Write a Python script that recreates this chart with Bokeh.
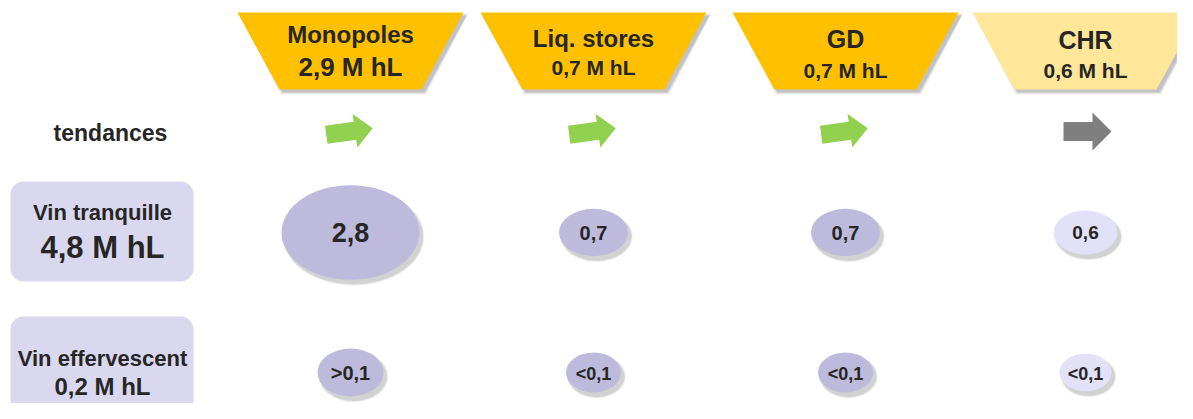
import numpy as np
from bokeh.plotting import figure
from bokeh.models import Range1d
from bokeh.embed import file_html
from bokeh.resources import INLINE
from bokeh.core.properties import value

# ---------------- data ----------------
channels = ["Monopoles", "Liq. stores", "GD", "CHR"]
channel_volumes = ["2,9 M hL", "0,7 M hL", "0,7 M hL", "0,6 M hL"]
trends = ["up", "up", "up", "flat"]
row_names = ["Vin tranquille", "Vin effervescent"]
row_totals = ["4,8 M hL", "0,2 M hL"]
still_labels = ["2,8", "0,7", "0,7", "0,6"]
still_values = [2.8, 0.7, 0.7, 0.6]
sparkling_labels = [">0,1", "<0,1", "<0,1", "<0,1"]

# ---------------- layout ----------------
FONT = value("Liberation Sans")
TXT = "#262626"
col_x = [350, 593, 845, 1085]
header_colors = ["#FFC000", "#FFC000", "#FFC000", "#FFE699"]
head_font1 = ["24px", "24px", "25px", "25px"]
head_font2 = ["26px", "21px", "21px", "21px"]
head_mid1 = [34, 37.5, 38.5, 39]
head_mid2 = [66.5, 66.5, 69.5, 70]
still_colors = ["#BDBADC", "#BDBADC", "#BDBADC", "#E2E1F7"]
spark_colors = ["#BDBADC", "#BDBADC", "#BDBADC", "#E2E1F7"]
still_fonts = ["27px", "20px", "20px", "19px"]
spark_w = [66, 55, 55, 52]
spark_fonts = ["20px", "18px", "18px", "18px"]
row_y = [232, 372]

W, H = 1177, 403
p = figure(width=W, height=H, output_backend="svg", toolbar_location=None,
           x_range=Range1d(0, W), y_range=Range1d(H, 0),
           min_border=0, outline_line_color=None)
p.axis.visible = False
p.grid.visible = False
p.background_fill_color = "white"
p.border_fill_color = "white"

# ---- header trapezoids ----
TOP_W, BOT_W, Y0, Y1 = 226, 142, 12, 89
def trap(cx, dx=0, dy=0, grow=0):
    xs = [cx - TOP_W / 2 - grow + dx, cx + TOP_W / 2 + grow + dx,
          cx + BOT_W / 2 + grow + dx, cx - BOT_W / 2 - grow + dx]
    ys = [Y0 - grow + dy, Y0 - grow + dy, Y1 + grow + dy, Y1 + grow + dy]
    return xs, ys

for g, a in [(2, 0.08), (1, 0.12), (0, 0.2)]:
    sx, sy = [], []
    for cx in col_x:
        xs, ys = trap(cx, 3, 3, g)
        sx.append(xs); sy.append(ys)
    p.patches(sx, sy, fill_color="#555555", fill_alpha=a, line_color=None)

hx, hy = [], []
for cx in col_x:
    xs, ys = trap(cx)
    hx.append(xs); hy.append(ys)
p.patches(hx, hy, fill_color=header_colors, line_color=None)

p.text(x=col_x, y=head_mid1, text=channels, text_font=FONT, text_font_style="bold",
       text_font_size=head_font1, text_align="center", text_baseline="middle",
       text_color=TXT)
p.text(x=col_x, y=head_mid2, text=channel_volumes, text_font=FONT, text_font_style="bold",
       text_font_size=head_font2, text_align="center", text_baseline="middle",
       text_color=TXT)

# ---- trend arrows ----
p.text(x=[110], y=[132.5], text=["tendances"], text_font=FONT, text_font_style="bold",
       text_font_size="23px", text_align="center", text_baseline="middle",
       text_color=TXT)

def arrow(cx, cy, L, sh, hh, hl, ang):
    pts = np.array([[-L / 2, -sh / 2], [L / 2 - hl, -sh / 2], [L / 2 - hl, -hh / 2],
                    [L / 2, 0], [L / 2 - hl, hh / 2], [L / 2 - hl, sh / 2],
                    [-L / 2, sh / 2]])
    a = np.deg2rad(ang)
    R = np.array([[np.cos(a), -np.sin(a)], [np.sin(a), np.cos(a)]])
    r = pts @ R.T
    return list(r[:, 0] + cx), list(r[:, 1] + cy)

ax_, ay_, acol = [], [], []
for cx, t in zip(col_x, trends):
    if t == "up":
        xs, ys = arrow(cx - 1, 131, 47, 18, 34, 18, -8)
        acol.append("#92D050")
    elif t == "down":
        xs, ys = arrow(cx - 1, 131, 47, 18, 34, 18, 8)
        acol.append("#FF0000")
    else:
        xs, ys = arrow(cx + 2, 131, 48, 19, 38, 19, 0)
        acol.append("#7F7F7F")
    ax_.append(xs); ay_.append(ys)
p.patches(ax_, ay_, fill_color=acol, line_color=None)

# ---- row label boxes ----
def rrect(x0, y0, x1, y1, r, n=10):
    xs, ys = [], []
    corners = [(x1 - r, y0 + r, -90, 0), (x1 - r, y1 - r, 0, 90),
               (x0 + r, y1 - r, 90, 180), (x0 + r, y0 + r, 180, 270)]
    for cx, cy, a0, a1 in corners:
        for t in np.linspace(np.deg2rad(a0), np.deg2rad(a1), n):
            xs.append(cx + r * np.cos(t)); ys.append(cy + r * np.sin(t))
    return xs, ys

bx1, by1 = rrect(10, 181, 193, 281, 13)
bx2, by2 = rrect(10, 316, 193, 440, 13)
p.patches([bx1, bx2], [by1, by2], fill_color="#DAD8EE", line_color=None)

p.text(x=[102, 102], y=[212, 358], text=row_names, text_font=FONT, text_font_style="bold",
       text_font_size=["22px", "22px"], text_align="center", text_baseline="middle",
       text_color=TXT)
p.text(x=[102, 102], y=[247, 386], text=row_totals, text_font=FONT, text_font_style="bold",
       text_font_size=["31px", "24px"], text_align="center", text_baseline="middle",
       text_color=TXT)

# ---- ellipses ----
still_w = [69 * np.sqrt(v / 0.7) for v in still_values]
still_h = [w / 1.46 for w in still_w]
spark_h = [w / 1.38 for w in spark_w]

ex = col_x + col_x
ey = [row_y[0]] * 4 + [row_y[1]] * 4
ew = still_w + spark_w
eh = still_h + spark_h
ecol = still_colors + spark_colors

for g, a in [(4, 0.05), (2.5, 0.08), (1, 0.12)]:
    p.ellipse(x=[x + 3 for x in ex], y=[y + 4 for y in ey],
              width=[w + g for w in ew], height=[h + g for h in eh],
              fill_color="#444444", fill_alpha=a, line_color=None)
p.ellipse(x=ex, y=ey, width=ew, height=eh, fill_color=ecol, line_color=None)

p.text(x=col_x, y=[232, 232, 232, 232], text=still_labels, text_font=FONT,
       text_font_style="bold", text_font_size=still_fonts, text_align="center",
       text_baseline="middle", text_color=TXT)
p.text(x=col_x, y=[372.5, 373, 373, 373], text=sparkling_labels, text_font=FONT,
       text_font_style="bold", text_font_size=spark_fonts, text_align="center",
       text_baseline="middle", text_color=TXT)

open("out.html", "w").write(file_html(p, INLINE))
